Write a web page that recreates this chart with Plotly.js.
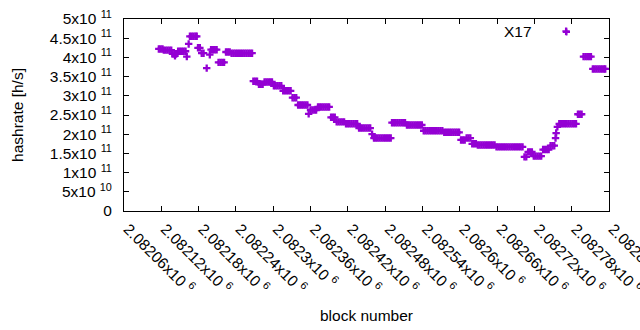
<!DOCTYPE html>
<html>
<head>
<meta charset="utf-8">
<script src="https://cdn.plot.ly/plotly-3.0.1.min.js"></script>
<style>html,body{margin:0;padding:0;background:#fff}#chart{width:640px;height:330px}</style>
</head>
<body>
<div id="chart"></div>
<script>
// Block numbers (x) and hashrate in h/s (y)
const blockNumber = [
  2082116,2082119,2082122,
  2082124,2082127,2082130,2082133,2082136,
  2082138,2082141,2082142,2082144,
  2082147,2082150,2082153,2082156,2082159,
  2082161,2082164,
  2082166,2082169,2082172,2082175,2082177,
  2082179,2082182,
  2082185,2082188,
  2082193,2082198,
  2082200,2082203,2082206,2082209,
  2082212,2082215,2082218,2082221,
  2082224,2082227,2082230,
  2082233,2082236,2082239,2082242,2082245,2082248,2082251,2082254,2082257,2082260,2082263,2082266,
  2082268,2082271,2082274,
  2082277,2082280,2082283,
  2082286,2082289,2082292,2082295,2082298,
  2082301,2082304,2082307,2082310,2082313,
  2082316,2082319,2082322,2082325,2082328,
  2082331,2082334,2082337,
  2082340,2082343,2082346,2082349,2082352,2082355,
  2082357,
  2082360,2082363,2082366,2082369,
  2082372,2082375,2082378,2082381,2082384,2082387,2082390,
  2082393,2082396,2082399,
  2082402,2082405,2082408,2082411,2082414,
  2082417,2082420,2082423,2082426,2082429,2082432,2082435,
  2082438,2082441,2082444,2082447,2082450,2082453,2082456,
  2082459,
  2082462,2082465,2082468,2082471,2082474,2082477,2082480,2082483,2082486,2082489,
  2082491,2082494,2082497,2082500,2082503,2082506,2082509,2082512,
  2082515,2082518,2082521,2082524,2082527,2082530,2082533,2082536,2082539,
  2082542,2082545,2082548,2082551,2082554,2082557,2082560,2082563,2082566,2082569,2082572,
  2082575,2082578,2082581,2082584,2082587,2082590,2082593,2082596,2082599,
  2082602,2082605,2082608,
  2082611,2082614,2082617,
  2082620,2082623,2082626,
  2082629,2082632,2082635,2082638,2082641,2082644,2082647,2082650,2082653,2082656,
  2082659,2082662,2082665,2082668,2082671,2082674,2082677,2082680,2082683,2082686,2082689,2082692,2082695,2082698,2082701,
  2082704,2082707,
  2082710,2082713,2082716,
  2082719,2082722,2082725,2082728,2082731,
  2082734,2082737,2082740,2082743,
  2082746,2082749,2082752,
  2082754,2082755,2082757,
  2082760,2082763,2082766,2082769,2082771,2082772,2082775,2082778,2082781,2082784,2082787,
  2082790,2082793,2082796,
  2082799,2082802,2082805,2082808,2082811,
  2082814,2082817,2082820,2082823,2082826,2082829,2082832,2082834
];
const hashrate = [
  4.22e11,4.22e11,4.22e11,
  4.19e11,4.19e11,4.19e11,4.19e11,4.19e11,
  4.09e11,4.09e11,4.04e11,4.09e11,
  4.16e11,4.16e11,4.16e11,4.16e11,4.16e11,
  4.02e11,4.35e11,
  4.55e11,4.55e11,4.55e11,4.55e11,4.55e11,
  4.25e11,4.25e11,
  4.11e11,4.11e11,
  3.72e11,4.07e11,
  4.20e11,4.20e11,4.20e11,4.20e11,
  3.87e11,3.87e11,3.87e11,3.87e11,
  4.14e11,4.14e11,4.14e11,
  4.11e11,4.11e11,4.11e11,4.11e11,4.11e11,4.11e11,4.11e11,4.11e11,4.11e11,4.11e11,4.11e11,4.11e11,
  3.38e11,3.38e11,3.38e11,
  3.30e11,3.30e11,3.30e11,
  3.36e11,3.36e11,3.36e11,3.36e11,3.36e11,
  3.26e11,3.26e11,3.26e11,3.26e11,3.26e11,
  3.13e11,3.13e11,3.13e11,3.13e11,3.13e11,
  2.95e11,2.95e11,2.95e11,
  2.76e11,2.76e11,2.76e11,2.76e11,2.76e11,2.76e11,
  2.53e11,
  2.63e11,2.63e11,2.63e11,2.63e11,
  2.71e11,2.71e11,2.71e11,2.71e11,2.71e11,2.71e11,2.71e11,
  2.44e11,2.44e11,2.44e11,
  2.32e11,2.32e11,2.32e11,2.32e11,2.32e11,
  2.27e11,2.27e11,2.27e11,2.27e11,2.27e11,2.27e11,2.27e11,
  2.16e11,2.16e11,2.16e11,2.16e11,2.16e11,2.16e11,2.16e11,
  2.00e11,
  1.90e11,1.90e11,1.90e11,1.90e11,1.90e11,1.90e11,1.90e11,1.90e11,1.90e11,1.90e11,
  2.30e11,2.30e11,2.30e11,2.30e11,2.30e11,2.30e11,2.30e11,2.30e11,
  2.24e11,2.24e11,2.24e11,2.24e11,2.24e11,2.24e11,2.24e11,2.24e11,2.24e11,
  2.09e11,2.09e11,2.09e11,2.09e11,2.09e11,2.09e11,2.09e11,2.09e11,2.09e11,2.09e11,2.09e11,
  2.05e11,2.05e11,2.05e11,2.05e11,2.05e11,2.05e11,2.05e11,2.05e11,2.05e11,
  1.85e11,1.85e11,1.85e11,
  1.90e11,1.90e11,1.90e11,
  1.75e11,1.75e11,1.75e11,
  1.72e11,1.72e11,1.72e11,1.72e11,1.72e11,1.72e11,1.72e11,1.72e11,1.72e11,1.72e11,
  1.67e11,1.67e11,1.67e11,1.67e11,1.67e11,1.67e11,1.67e11,1.67e11,1.67e11,1.67e11,1.67e11,1.67e11,1.67e11,1.67e11,1.67e11,
  1.41e11,1.41e11,
  1.54e11,1.54e11,1.54e11,
  1.43e11,1.43e11,1.43e11,1.43e11,1.43e11,
  1.60e11,1.60e11,1.60e11,1.60e11,
  1.70e11,1.70e11,1.70e11,
  1.90e11,2.03e11,2.19e11,
  2.27e11,2.27e11,2.27e11,2.27e11,4.68e11,2.27e11,2.27e11,2.27e11,2.27e11,2.27e11,2.27e11,
  2.52e11,2.52e11,2.52e11,
  4.02e11,4.02e11,4.02e11,4.02e11,4.02e11,
  3.70e11,3.70e11,3.70e11,3.70e11,3.70e11,3.70e11,3.70e11,3.70e11
];

const xTickValues = [2082060,2082120,2082180,2082240,2082300,2082360,2082420,2082480,2082540,2082600,2082660,2082720,2082780,2082840];
const xTickMantissa = ['2.08206','2.08212','2.08218','2.08224','2.0823','2.08236','2.08242','2.08248','2.08254','2.0826','2.08266','2.08272','2.08278','2.08284'];
const yTickValues = [0,0.5e11,1e11,1.5e11,2e11,2.5e11,3e11,3.5e11,4e11,4.5e11,5e11];
const yTickLabels = ['0','5x10 <sup>10</sup>','1x10 <sup>11</sup>','1.5x10 <sup>11</sup>','2x10 <sup>11</sup>','2.5x10 <sup>11</sup>','3x10 <sup>11</sup>','3.5x10 <sup>11</sup>','4x10 <sup>11</sup>','4.5x10 <sup>11</sup>','5x10 <sup>11</sup>'];
const seriesName = 'X17';

const purple = '#9400d3';
const font = {family: '"Liberation Sans", Arial, sans-serif', size: 15.5, color: '#000'};

const trace = {
  x: blockNumber, y: hashrate, type: 'scatter', mode: 'markers', name: seriesName,
  marker: {symbol: 'cross-thin', size: 5.3, color: purple, line: {color: purple, width: 2.3}},
  showlegend: false, hoverinfo: 'skip'
};

const axisCommon = {
  showline: true, linecolor: '#000', linewidth: 1, mirror: 'allticks',
  ticks: 'inside', ticklen: 5, tickcolor: '#000', tickwidth: 1,
  showgrid: false, zeroline: false, tickfont: font, automargin: false,
  ticklabeloverflow: 'allow'
};

const layout = {
  width: 640, height: 330,
  margin: {l: 124, r: 31, t: 19, b: 119, pad: 0},
  paper_bgcolor: '#fff', plot_bgcolor: '#fff',
  font: font,
  xaxis: Object.assign({}, axisCommon, {
    range: [2082060, 2082840], tickmode: 'array', tickvals: xTickValues,
    ticktext: xTickMantissa.map(m => m + 'x10 <sup>6</sup>'),
    tickangle: 45, ticklabelstandoff: 2, ticklabelshift: 4,
    title: {text: 'block number', font: font, standoff: 14}
  }),
  yaxis: Object.assign({}, axisCommon, {
    range: [0, 5e11], tickmode: 'array', tickvals: yTickValues, ticktext: yTickLabels,
    ticklabelstandoff: 8,
    title: {text: 'hashrate [h/s]', font: font, standoff: 22}
  }),
  annotations: [{
    xref: 'paper', yref: 'paper', x: 0.8455, y: 0.935, xanchor: 'right', yanchor: 'middle',
    text: seriesName, showarrow: false, font: font
  }],
  shapes: [{
    type: 'path', xref: 'paper', yref: 'paper',
    path: 'M 0.9052 0.9323 L 0.9196 0.9323 M 0.9124 0.9141 L 0.9124 0.9505',
    line: {color: purple, width: 1.8}
  }]
};

Plotly.newPlot('chart', [trace], layout, {staticPlot: true, displayModeBar: false});
</script>
</body>
</html>
